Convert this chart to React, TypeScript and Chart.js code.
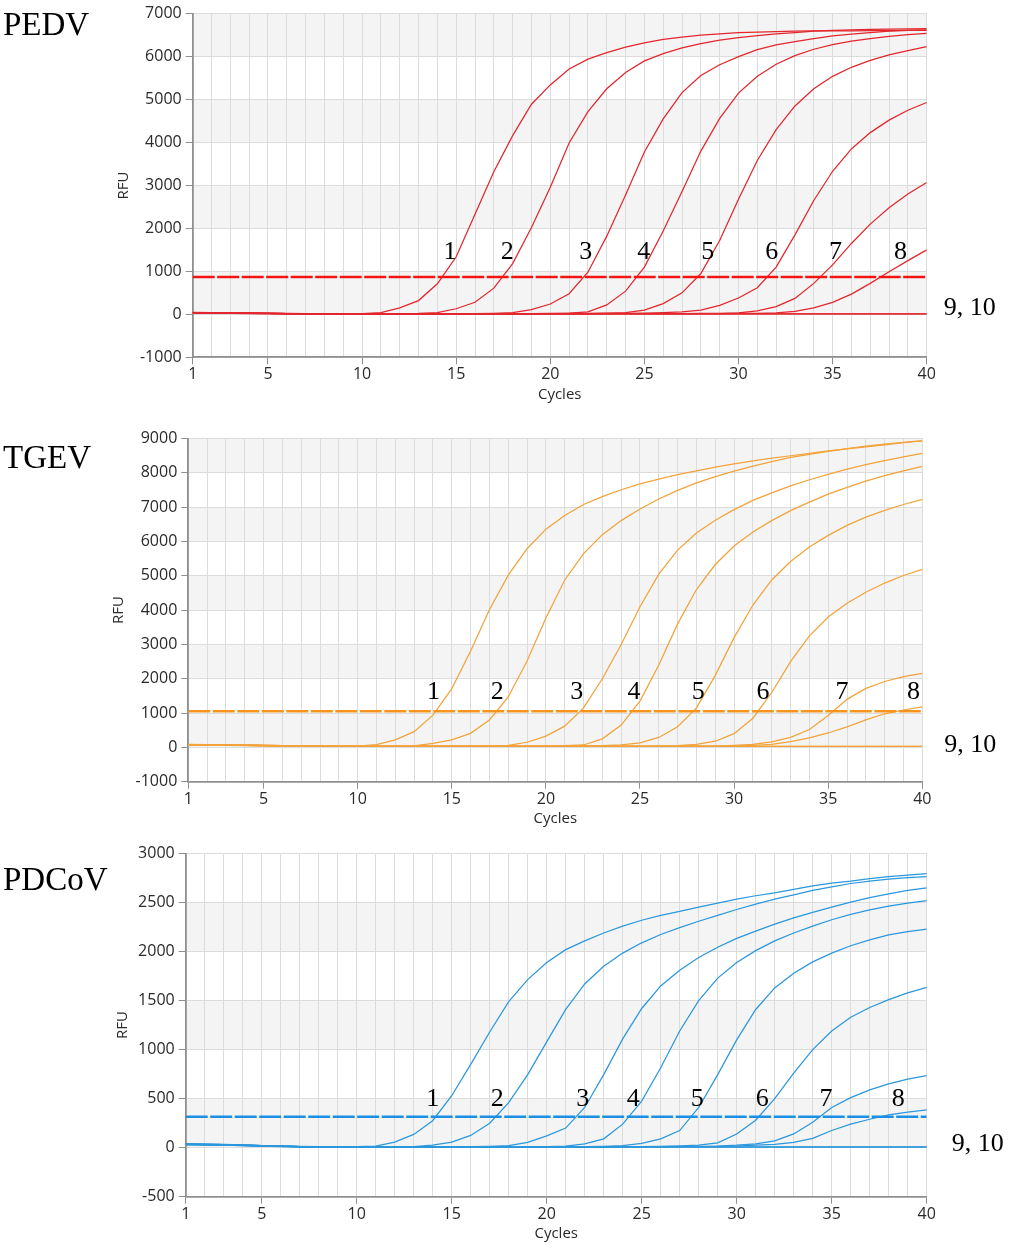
import { useEffect, useRef } from 'react';
import Chart from 'chart.js/auto';

// x axis: PCR cycles
const cycles = [
  1, 2, 3, 4, 5, 6, 7, 8, 9, 10, 11, 12, 13, 14, 15, 16, 17, 18, 19, 20,
  21, 22, 23, 24, 25, 26, 27, 28, 29, 30, 31, 32, 33, 34, 35, 36, 37, 38, 39, 40,
];
const xTickLabels = [1, 5, 10, 15, 20, 25, 30, 35, 40];
const curveNames = ['1', '2', '3', '4', '5', '6', '7', '8'];
const negativeName = '9, 10';

// ---- PEDV (RFU per cycle) ----
const pedv1 = [45, 38, 32, 27, 23, 20, 18, 17, 16, 18, 40, 150, 320, 710, 1340, 2330, 3320, 4160, 4890, 5340, 5710, 5940, 6090, 6220, 6320, 6400, 6450, 6500, 6530, 6555, 6570, 6580, 6590, 6595, 6600, 6600, 6605, 6605, 6610, 6610];
const pedv2 = [40, 35, 30, 26, 22, 19, 17, 16, 15, 15, 15, 16, 20, 40, 130, 280, 610, 1180, 2020, 2960, 3990, 4720, 5250, 5630, 5900, 6070, 6200, 6300, 6380, 6440, 6490, 6530, 6560, 6590, 6610, 6620, 6630, 6640, 6645, 6650];
const pedv3 = [42, 36, 31, 26, 22, 19, 17, 16, 15, 15, 15, 15, 15, 15, 16, 18, 25, 40, 110, 240, 480, 980, 1820, 2780, 3780, 4550, 5160, 5560, 5810, 6000, 6160, 6270, 6350, 6420, 6480, 6520, 6560, 6590, 6610, 6620];
const pedv4 = [38, 33, 29, 25, 21, 18, 16, 15, 14, 14, 14, 14, 14, 14, 15, 15, 16, 17, 19, 22, 30, 60, 220, 540, 1100, 1940, 2860, 3800, 4560, 5150, 5540, 5820, 6020, 6170, 6280, 6360, 6420, 6470, 6510, 6540];
const pedv5 = [40, 34, 29, 25, 21, 18, 16, 15, 14, 14, 14, 14, 14, 14, 14, 15, 15, 16, 17, 18, 20, 23, 28, 40, 100, 250, 500, 950, 1720, 2680, 3580, 4300, 4850, 5250, 5540, 5750, 5910, 6040, 6140, 6230];
const pedv6 = [36, 31, 27, 23, 20, 17, 16, 15, 14, 14, 14, 14, 14, 14, 14, 14, 14, 15, 15, 16, 17, 18, 20, 23, 28, 38, 55, 100, 210, 380, 620, 1100, 1850, 2650, 3330, 3850, 4230, 4520, 4750, 4930];
const pedv7 = [37, 32, 28, 24, 20, 17, 15, 14, 13, 13, 13, 13, 13, 13, 13, 13, 13, 13, 14, 14, 14, 15, 15, 16, 17, 18, 19, 21, 25, 35, 80, 180, 370, 720, 1150, 1650, 2100, 2480, 2800, 3070];
const pedv8 = [35, 30, 26, 22, 19, 16, 14, 13, 12, 12, 12, 12, 12, 12, 12, 12, 12, 12, 12, 13, 13, 13, 14, 14, 15, 15, 16, 17, 18, 20, 25, 32, 70, 150, 280, 470, 720, 990, 1250, 1500];
const pedv9 = [34, 29, 25, 21, 18, 15, 13, 12, 11, 11, 11, 11, 11, 11, 11, 11, 11, 11, 11, 11, 11, 11, 11, 11, 11, 11, 11, 11, 11, 11, 11, 11, 11, 11, 11, 11, 11, 11, 11, 11];
const pedv10 = [30, 26, 22, 19, 16, 14, 12, 11, 10, 10, 10, 10, 10, 10, 10, 10, 10, 10, 10, 10, 10, 10, 10, 10, 10, 10, 10, 10, 10, 10, 10, 10, 10, 10, 10, 10, 10, 10, 10, 10];
const pedvThreshold = 870;
const pedvYTicks = [-1000, 0, 1000, 2000, 3000, 4000, 5000, 6000, 7000];
const pedvLabelCycles = [14.67, 17.71, 21.88, 24.97, 28.36, 31.77, 35.16, 38.61];
const pedvLabelRfu = 1457;

// ---- TGEV ----
const tgev1 = [85, 80, 75, 68, 60, 52, 45, 40, 36, 38, 80, 220, 460, 940, 1710, 2810, 4010, 5020, 5790, 6360, 6760, 7080, 7310, 7510, 7680, 7820, 7950, 8060, 8170, 8260, 8350, 8430, 8500, 8570, 8640, 8700, 8760, 8820, 8880, 8930];
const tgev2 = [80, 76, 70, 64, 57, 50, 44, 40, 36, 34, 34, 36, 42, 120, 220, 410, 800, 1470, 2520, 3770, 4880, 5650, 6200, 6610, 6950, 7240, 7490, 7710, 7890, 8050, 8200, 8330, 8450, 8540, 8630, 8710, 8780, 8840, 8890, 8940];
const tgev3 = [82, 77, 72, 65, 58, 51, 45, 40, 36, 34, 33, 33, 33, 34, 35, 38, 45, 60, 150, 330, 620, 1150, 2000, 3000, 4100, 5050, 5750, 6250, 6620, 6930, 7200, 7420, 7620, 7800, 7960, 8110, 8240, 8360, 8470, 8570];
const tgev4 = [80, 75, 70, 63, 56, 50, 44, 40, 36, 34, 33, 33, 33, 33, 33, 34, 35, 36, 38, 42, 48, 70, 250, 650, 1350, 2400, 3600, 4600, 5330, 5870, 6280, 6610, 6900, 7150, 7380, 7580, 7760, 7920, 8060, 8190];
const tgev5 = [78, 74, 69, 62, 55, 49, 43, 39, 35, 33, 32, 32, 32, 32, 32, 32, 33, 34, 35, 36, 38, 42, 50, 70, 130, 290, 600, 1150, 2100, 3200, 4150, 4880, 5420, 5840, 6180, 6470, 6710, 6910, 7080, 7230];
const tgev6 = [76, 72, 67, 60, 54, 48, 42, 38, 34, 32, 31, 31, 31, 31, 31, 31, 31, 32, 32, 33, 33, 34, 35, 36, 38, 40, 55, 90, 180, 400, 850, 1600, 2500, 3250, 3800, 4200, 4520, 4790, 5010, 5190];
const tgev7 = [75, 70, 65, 59, 53, 47, 41, 37, 33, 31, 30, 30, 30, 30, 30, 30, 30, 30, 30, 31, 31, 31, 32, 32, 33, 34, 35, 37, 40, 60, 90, 160, 290, 520, 930, 1400, 1720, 1920, 2060, 2160];
const tgev8 = [74, 69, 64, 58, 52, 46, 40, 36, 32, 30, 30, 30, 30, 30, 30, 30, 30, 30, 30, 30, 30, 30, 31, 31, 32, 33, 34, 35, 37, 40, 60, 90, 170, 280, 420, 600, 800, 980, 1090, 1180];
const tgev9 = [72, 67, 62, 56, 50, 44, 39, 35, 31, 29, 29, 29, 29, 29, 29, 29, 29, 29, 29, 29, 29, 29, 29, 29, 29, 29, 29, 29, 29, 29, 29, 29, 29, 29, 29, 29, 29, 29, 29, 29];
const tgev10 = [70, 65, 60, 54, 48, 43, 38, 34, 30, 28, 28, 28, 28, 28, 28, 28, 28, 28, 28, 28, 28, 28, 28, 28, 28, 28, 28, 28, 28, 28, 28, 28, 28, 28, 28, 28, 28, 28, 28, 28];
const tgevThreshold = 1055;
const tgevYTicks = [-1000, 0, 1000, 2000, 3000, 4000, 5000, 6000, 7000, 8000, 9000];
const tgevLabelCycles = [14.03, 17.42, 21.64, 24.68, 28.09, 31.54, 35.73, 39.53];
const tgevLabelRfu = 1612;

// ---- PDCoV ----
const pdcov1 = [38, 36, 33, 28, 22, 17, 13, 11, 10, 11, 17, 57, 135, 275, 530, 850, 1180, 1490, 1715, 1890, 2020, 2110, 2190, 2260, 2320, 2370, 2410, 2455, 2495, 2535, 2570, 2600, 2635, 2670, 2700, 2720, 2745, 2765, 2780, 2795];
const pdcov2 = [36, 34, 31, 27, 21, 16, 12, 10, 9, 9, 9, 9, 10, 25, 57, 125, 250, 460, 745, 1080, 1410, 1670, 1850, 1985, 2090, 2175, 2245, 2310, 2370, 2430, 2485, 2535, 2580, 2625, 2660, 2695, 2720, 2740, 2755, 2765];
const pdcov3 = [37, 35, 32, 27, 21, 16, 12, 10, 9, 9, 9, 9, 9, 9, 10, 11, 14, 20, 55, 120, 200, 410, 745, 1110, 1420, 1650, 1810, 1940, 2045, 2135, 2210, 2280, 2345, 2400, 2455, 2505, 2550, 2590, 2625, 2650];
const pdcov4 = [35, 33, 30, 26, 20, 15, 12, 10, 9, 9, 9, 9, 9, 9, 9, 9, 10, 10, 11, 12, 15, 40, 90, 240, 475, 815, 1190, 1500, 1730, 1890, 2010, 2110, 2190, 2260, 2325, 2380, 2425, 2465, 2495, 2520];
const pdcov5 = [36, 34, 31, 26, 20, 15, 12, 10, 9, 9, 9, 9, 9, 9, 9, 9, 9, 9, 10, 10, 11, 12, 14, 20, 45, 90, 175, 410, 745, 1100, 1410, 1630, 1780, 1895, 1985, 2060, 2120, 2170, 2205, 2230];
const pdcov6 = [34, 32, 29, 25, 19, 15, 11, 9, 8, 8, 8, 8, 8, 8, 8, 8, 8, 8, 9, 9, 9, 10, 10, 11, 12, 14, 18, 25, 50, 140, 280, 500, 760, 1000, 1190, 1330, 1430, 1510, 1580, 1635];
const pdcov7 = [33, 31, 28, 24, 19, 14, 11, 9, 8, 8, 8, 8, 8, 8, 8, 8, 8, 8, 8, 8, 9, 9, 9, 10, 10, 11, 12, 13, 15, 25, 40, 70, 140, 260, 410, 510, 590, 650, 700, 735];
const pdcov8 = [32, 30, 27, 23, 18, 14, 11, 9, 8, 8, 8, 8, 8, 8, 8, 8, 8, 8, 8, 8, 8, 8, 9, 9, 10, 10, 11, 12, 13, 15, 25, 35, 55, 95, 175, 240, 290, 335, 362, 385];
const pdcov9 = [31, 29, 26, 22, 17, 13, 10, 8, 7, 7, 7, 7, 7, 7, 7, 7, 7, 7, 7, 7, 7, 7, 7, 7, 7, 7, 7, 7, 7, 7, 7, 7, 7, 7, 7, 7, 7, 7, 7, 7];
const pdcov10 = [30, 28, 25, 21, 16, 12, 9, 7, 6, 6, 6, 6, 6, 6, 6, 6, 6, 6, 6, 6, 6, 6, 6, 6, 6, 6, 6, 6, 6, 6, 6, 6, 6, 6, 6, 6, 6, 6, 6, 6];
const pdcovThreshold = 316;
const pdcovYTicks = [-500, 0, 500, 1000, 1500, 2000, 2500, 3000];
const pdcovLabelCycles = [14.0, 17.4, 21.9, 24.55, 27.93, 31.35, 34.7, 38.5];
const pdcovLabelRfu = 494;

const SANS = '"Open Sans", sans-serif';
const SERIF = '"Liberation Serif", "Times New Roman", serif';
const PAGE_W = 1013;
const X_AXIS_H = 46;
const TITLE_SIZE = 15;
const GRID = '#dcdcdc';
const AXIS = '#8f8f8f';
const TEXT = '#2a2a2a';

interface PanelProps {
    title: string,
    titleTop: number,
    curves: number[][],
    threshold: number,
    yTicks: number[],
    labelCycles: number[],
    labelRfu: number,
    lineColor: string,
    thresholdColor: string,
    area: { left: number, right: number, top: number, bottom: number },
    rfuX: number,
    restGap: number,
    restDy: number,
}

const Panel = (props: PanelProps) => {
    const canvasRef = useRef<HTMLCanvasElement>(null);
    const { area } = props;
    const canvasTop = Math.floor(area.top) - 10;
    const canvasH = Math.ceil(area.bottom + X_AXIS_H - canvasTop) + 1;

    useEffect(() => {
        const canvas = canvasRef.current;
        const ctx = canvas?.getContext('2d');
        if (!ctx) return;

        const padTop = area.top - canvasTop;
        const padLeft = props.rfuX - TITLE_SIZE * 0.6;
        const yWidth = area.left - padLeft;
        const padRight = PAGE_W - area.right;
        const padBottom = canvasH - (area.bottom - canvasTop) - X_AXIS_H;
        const yTicks = props.yTicks;

        // alternating grey bands, counted from the bottom
        const bandPlugin = {
            id: 'bands',
            beforeDraw(chart: any) {
                const { ctx, chartArea: a, scales } = chart;
                ctx.save();
                ctx.fillStyle = '#ffffff';
                ctx.fillRect(a.left, a.top, a.right - a.left, a.bottom - a.top);
                ctx.fillStyle = '#f4f4f4';
                for (let i = 1; i < yTicks.length - 1; i += 2) {
                    const y0 = scales.y.getPixelForValue(yTicks[i]);
                    const y1 = scales.y.getPixelForValue(yTicks[i + 1]);
                    ctx.fillRect(a.left, y1, a.right - a.left, y0 - y1);
                }
                ctx.restore();
            },
        };

        // curve numbers and the "9, 10" note
        const labelPlugin = {
            id: 'curveLabels',
            afterDraw(chart: any) {
                const { ctx, chartArea: a, scales } = chart;
                ctx.save();
                ctx.fillStyle = '#000';
                ctx.font = `26px ${SERIF}`;
                ctx.textAlign = 'center';
                ctx.textBaseline = 'middle';
                props.labelCycles.forEach((c, i) => {
                    ctx.fillText(curveNames[i], scales.x.getPixelForValue(c), scales.y.getPixelForValue(props.labelRfu));
                });
                ctx.textAlign = 'left';
                ctx.textBaseline = 'alphabetic';
                ctx.fillText(negativeName, a.right + props.restGap, scales.y.getPixelForValue(0) + props.restDy);
                ctx.restore();
            },
        };

        const datasets: any[] = [
            {
                label: 'threshold',
                data: [{ x: cycles[0], y: props.threshold }, { x: cycles[cycles.length - 1], y: props.threshold }],
                borderColor: props.thresholdColor,
                borderWidth: 2.6,
                borderDash: [22, 2.5],
                order: 0,
            },
            ...props.curves.map((values, i) => ({
                label: String(i + 1),
                data: values.map((v, j) => ({ x: cycles[j], y: v })),
                borderColor: props.lineColor,
                borderWidth: 1.25,
                order: 1,
            })),
        ];

        const chart = new Chart(ctx, {
            type: 'line',
            data: { datasets },
            options: {
                animation: false,
                responsive: false,
                events: [],
                layout: { padding: { top: padTop, left: padLeft, right: padRight, bottom: padBottom } },
                plugins: { legend: { display: false }, tooltip: { enabled: false } },
                elements: { point: { radius: 0 }, line: { tension: 0 } },
                scales: {
                    x: {
                        type: 'linear',
                        min: cycles[0],
                        max: cycles[cycles.length - 1],
                        afterFit: (s: any) => { s.height = X_AXIS_H },
                        ticks: {
                            stepSize: 1,
                            autoSkip: false,
                            maxRotation: 0,
                            padding: 1,
                            color: TEXT,
                            font: { family: SANS, size: 16 },
                            callback: (v: any) => (xTickLabels.includes(v) ? String(v) : ''),
                        },
                        grid: {
                            color: GRID,
                            tickLength: 7,
                            tickColor: (c: any) => (xTickLabels.includes(c.tick?.value) ? AXIS : 'rgba(0,0,0,0)'),
                        },
                        border: { color: AXIS, width: 1.8 },
                        title: {
                            display: true, text: 'Cycles', color: TEXT,
                            font: { family: SANS, size: TITLE_SIZE }, padding: { top: 0, bottom: 0 },
                        },
                    },
                    y: {
                        type: 'linear',
                        min: yTicks[0],
                        max: yTicks[yTicks.length - 1],
                        afterFit: (s: any) => { s.width = yWidth },
                        ticks: {
                            stepSize: yTicks[1] - yTicks[0],
                            padding: 4,
                            color: TEXT,
                            font: { family: SANS, size: 16 },
                            callback: (v: any) => String(v),
                        },
                        grid: { color: GRID, tickLength: 7, tickColor: AXIS },
                        border: { color: AXIS, width: 1.8 },
                        title: {
                            display: true, text: 'RFU', color: TEXT,
                            font: { family: SANS, size: TITLE_SIZE }, padding: { top: 0, bottom: 0 },
                        },
                    },
                },
            } as any,
            plugins: [bandPlugin, labelPlugin],
        });

        return () => {
            chart.destroy();
        };
    }, []);

    return (
        <>
            <canvas
                ref={canvasRef}
                width={PAGE_W}
                height={canvasH}
                style={{ position: 'absolute', left: 0, top: canvasTop }}
            />
            <div style={{
                position: 'absolute', left: 3, top: props.titleTop,
                fontFamily: SERIF, fontSize: 33, lineHeight: '33px', color: '#000', whiteSpace: 'nowrap',
            }}>
                {props.title}
            </div>
        </>
    );
};

export default function App() {
    return (
        <div style={{ position: 'absolute', left: 0, top: 0, width: PAGE_W, height: 1245, background: '#fff', overflow: 'hidden' }}>
            <Panel
                title="PEDV"
                titleTop={8.4}
                curves={[pedv1, pedv2, pedv3, pedv4, pedv5, pedv6, pedv7, pedv8, pedv9, pedv10]}
                threshold={pedvThreshold}
                yTicks={pedvYTicks}
                labelCycles={pedvLabelCycles}
                labelRfu={pedvLabelRfu}
                lineColor="#e3262d"
                thresholdColor="#f51414"
                area={{ left: 192.7, right: 926.7, top: 10.7, bottom: 357.3 }}
                rfuX={123.5}
                restGap={17}
                restDy={1}
            />
            <Panel
                title="TGEV"
                titleTop={440.7}
                curves={[tgev1, tgev2, tgev3, tgev4, tgev5, tgev6, tgev7, tgev8, tgev9, tgev10]}
                threshold={tgevThreshold}
                yTicks={tgevYTicks}
                labelCycles={tgevLabelCycles}
                labelRfu={tgevLabelRfu}
                lineColor="#f2a33a"
                thresholdColor="#f7941d"
                area={{ left: 188.3, right: 922.3, top: 435, bottom: 781.7 }}
                rfuX={119}
                restGap={22}
                restDy={5}
            />
            <Panel
                title="PDCoV"
                titleTop={863.4}
                curves={[pdcov1, pdcov2, pdcov3, pdcov4, pdcov5, pdcov6, pdcov7, pdcov8, pdcov9, pdcov10]}
                threshold={pdcovThreshold}
                yTicks={pdcovYTicks}
                labelCycles={pdcovLabelCycles}
                labelRfu={pdcovLabelRfu}
                lineColor="#2b97dc"
                thresholdColor="#1a8fe3"
                area={{ left: 185.7, right: 926.7, top: 850, bottom: 1196.7 }}
                rfuX={123}
                restGap={25}
                restDy={3}
            />
        </div>
    );
}
